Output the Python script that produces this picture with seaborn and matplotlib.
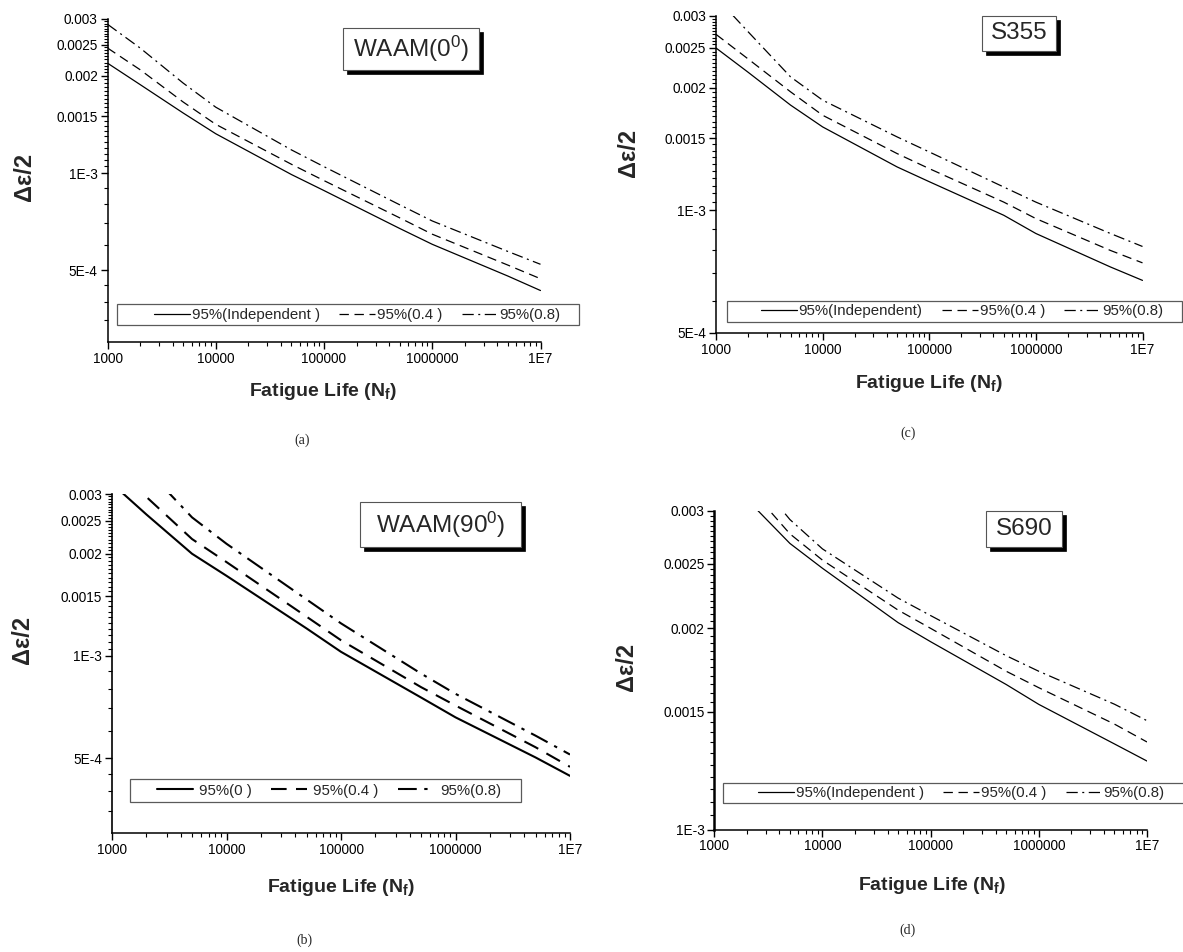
import numpy as np
import pandas as pd
import seaborn as sns
import matplotlib
matplotlib.use("Agg")
import matplotlib.pyplot as plt
from matplotlib.patches import Rectangle
from matplotlib.ticker import FixedLocator, FixedFormatter, NullFormatter, LogLocator

# fatigue life points (cycles)
N = [1e3, 2e3, 5e3, 1e4, 5e4, 1e5, 5e5, 1e6, 5e6, 1e7]

# (a) WAAM 0 deg
waam0_ind = [2.19e-3, 1.88e-3, 1.535e-3, 1.324e-3, 9.9e-4, 8.83e-4, 6.74e-4, 6.02e-4, 4.80e-4, 4.33e-4]
waam0_04 = [2.44e-3, 2.09e-3, 1.66e-3, 1.416e-3, 1.065e-3, 9.48e-4, 7.27e-4, 6.47e-4, 5.19e-4, 4.71e-4]
waam0_08 = [2.89e-3, 2.44e-3, 1.90e-3, 1.60e-3, 1.18e-3, 1.047e-3, 7.98e-4, 7.11e-4, 5.72e-4, 5.22e-4]

# (b) WAAM 90 deg
waam90_0 = [3.22e-3, 2.61e-3, 2.0e-3, 1.722e-3, 1.205e-3, 1.028e-3, 7.54e-4, 6.59e-4, 5.02e-4, 4.43e-4]
waam90_04 = [3.70e-3, 2.94e-3, 2.21e-3, 1.89e-3, 1.305e-3, 1.112e-3, 8.09e-4, 7.14e-4, 5.38e-4, 4.71e-4]
waam90_08 = [4.55e-3, 3.55e-3, 2.56e-3, 2.14e-3, 1.467e-3, 1.247e-3, 8.87e-4, 7.73e-4, 5.82e-4, 5.12e-4]

# (c) S355
s355_ind = [2.50e-3, 2.18e-3, 1.811e-3, 1.601e-3, 1.277e-3, 1.175e-3, 9.72e-4, 8.77e-4, 7.26e-4, 6.73e-4]
s355_04 = [2.70e-3, 2.35e-3, 1.952e-3, 1.71e-3, 1.377e-3, 1.265e-3, 1.047e-3, 9.54e-4, 7.97e-4, 7.43e-4]
s355_08 = [3.33e-3, 2.74e-3, 2.124e-3, 1.862e-3, 1.513e-3, 1.39e-3, 1.14e-3, 1.047e-3, 8.77e-4, 8.15e-4]

# (d) S690
s690_ind = [3.47e-3, 3.12e-3, 2.68e-3, 2.46e-3, 2.04e-3, 1.91e-3, 1.648e-3, 1.539e-3, 1.343e-3, 1.266e-3]
s690_04 = [3.78e-3, 3.28e-3, 2.77e-3, 2.53e-3, 2.13e-3, 2.0e-3, 1.725e-3, 1.63e-3, 1.438e-3, 1.352e-3]
s690_08 = [3.99e-3, 3.48e-3, 2.91e-3, 2.63e-3, 2.22e-3, 2.09e-3, 1.82e-3, 1.725e-3, 1.54e-3, 1.455e-3]

x_ticks = [1e3, 1e4, 1e5, 1e6, 1e7]
x_labels = ["1000", "10000", "100000", "1000000", "1E7"]
y_ticks = [3e-3, 2.5e-3, 2e-3, 1.5e-3, 1e-3, 5e-4]
y_labels = ["0.003", "0.0025", "0.002", "0.0015", "1E-3", "5E-4"]

sns.set_style("ticks")
plt.rcParams["font.family"] = ["Liberation Sans", "DejaVu Sans"]
plt.rcParams["mathtext.fontset"] = "custom"
plt.rcParams["mathtext.rm"] = "Liberation Sans"
plt.rcParams["mathtext.it"] = "Liberation Sans:italic"
plt.rcParams["mathtext.bf"] = "Liberation Sans:bold"

W, H = 1183, 952
fig = plt.figure(figsize=(W / 100, H / 100), dpi=100)
fig.patch.set_facecolor("white")


def fx(x):
    return x / W


def fy(y):
    return 1 - y / H


DASH = (0, (7.5, 4.5))
DASHDOT = (0, (9.0, 3.6, 1.6, 3.6))


def panel(box, ylim, series, labels, lw, title, tbox, leg_box, leg_start,
          ylab_x, xlab, cap, cap_text, textpad=0.1, left_lw=1.1):
    l, t, r, b = box
    ax = fig.add_axes([fx(l), fy(b), (r - l) / W, (b - t) / H])
    styles = ["-", DASH, DASHDOT]
    for vals, lab, st in zip(series, labels, styles):
        df = pd.DataFrame({"N": N, "eps": vals})
        sns.lineplot(data=df, x="N", y="eps", ax=ax, color="black", lw=lw,
                     linestyle=st, label=lab, legend=False)
    ax.set_xscale("log")
    ax.set_yscale("log")
    ax.set_xlim(1e3, 1e7)
    ax.set_ylim(*ylim)
    sns.despine(ax=ax)
    ax.spines["left"].set_linewidth(left_lw)
    ax.spines["bottom"].set_linewidth(1.1)
    for s in ["left", "bottom"]:
        ax.spines[s].set_color("black")

    ax.xaxis.set_major_locator(FixedLocator(x_ticks))
    ax.xaxis.set_major_formatter(FixedFormatter(x_labels))
    ax.xaxis.set_minor_locator(LogLocator(base=10, subs=np.arange(2, 10), numticks=50))
    ax.xaxis.set_minor_formatter(NullFormatter())

    yt = [v for v in y_ticks if ylim[0] - 1e-9 <= v <= ylim[1] + 1e-9]
    yl = [y_labels[y_ticks.index(v)] for v in yt]
    ax.yaxis.set_major_locator(FixedLocator(yt))
    ax.yaxis.set_major_formatter(FixedFormatter(yl))
    minor = list(np.arange(1.05e-3, 3e-3, 5e-5)) + list(np.arange(6e-4, 1e-3, 1e-4)) \
        + list(np.arange(3.5e-4, 5e-4, 5e-5))
    minor = [m for m in minor if ylim[0] < m < ylim[1] and
             min(abs(m - v) for v in y_ticks) > 1e-6]
    ax.yaxis.set_minor_locator(FixedLocator(minor))
    ax.yaxis.set_minor_formatter(NullFormatter())
    ax.tick_params(which="major", direction="out", length=5, width=1.0,
                   labelsize=9.8, pad=2, colors="black")
    ax.tick_params(which="minor", direction="out", length=3, width=0.8, colors="black")
    ax.set_xlabel("")
    ax.set_ylabel("")
    ax.set_facecolor("white")

    # legend, one row, with its own thin frame
    bl, bt, br, bb = leg_box
    fig.add_artist(Rectangle((fx(bl), fy(bb)), (br - bl) / W, (bb - bt) / H,
                             transform=fig.transFigure, facecolor="none",
                             edgecolor="#5a5a5a", lw=0.9, clip_on=False))
    ax.legend(loc="center left", bbox_to_anchor=(fx(leg_start), fy((bt + bb) / 2)),
              bbox_transform=fig.transFigure, frameon=False, ncol=3,
              borderpad=0, borderaxespad=0, handlelength=2.4,
              handletextpad=textpad, columnspacing=1.3, fontsize=10.8)

    # title box with shadow
    tl, tt, tr, tb = tbox
    fig.add_artist(Rectangle((fx(tl + 4), fy(tb + 4)), (tr - tl) / W, (tb - tt) / H,
                             transform=fig.transFigure, facecolor="black",
                             edgecolor="black", lw=0.5))
    fig.add_artist(Rectangle((fx(tl), fy(tb)), (tr - tl) / W, (tb - tt) / H,
                             transform=fig.transFigure, facecolor="white",
                             edgecolor="#555555", lw=0.8))
    fig.text(fx((tl + tr) / 2), fy((tt + tb) / 2), title, ha="center", va="center",
             fontsize=17.5)

    fig.text(fx(ylab_x[0]), fy(ylab_x[1]), "Δε/2", rotation=90, ha="center",
             va="center", fontsize=17, fontweight="bold")
    fig.text(fx(xlab[0]), fy(xlab[1]), r"Fatigue Life (N$_{\mathbf{f}}$)",
             ha="center", va="center", fontsize=14, fontweight="bold")
    fig.text(fx(cap[0]), fy(cap[1]), cap_text, ha="center", va="center",
             fontsize=10, family=["Liberation Serif", "DejaVu Serif"])
    return ax


lab_ind = ["95%(Independent )", "95%(0.4 )", "95%(0.8)"]

panel((107.5, 19, 540.5, 342), (3e-4, 3e-3), [waam0_ind, waam0_04, waam0_08],
      lab_ind, 0.9, "WAAM(0$^0$)", (343, 28, 479, 70),
      (117, 304.5, 579, 325), 154, (24, 177), (323, 392), (302, 440), "(a)")

panel((716, 15.7, 1142.5, 333), (5e-4, 3e-3), [s355_ind, s355_04, s355_08],
      ["95%(Independent)", "95%(0.4 )", "95%(0.8)"], 0.9, "S355", (982, 15.7, 1056, 50.7),
      (727, 301.5, 1182, 321.5), 761, (629, 153), (929, 383), (908, 433), "(c)")

panel((112, 494, 570, 833.3), (3e-4, 3e-3), [waam90_0, waam90_04, waam90_08],
      ["95%(0 )", "95%(0.4 )", "95%(0.8)"], 1.5, "WAAM(90$^0$)", (360, 502, 521, 547),
      (130, 779.3, 521, 801.7), 157, (23, 640), (341, 887), (304, 940), "(b)",
      textpad=0.4, left_lw=1.2)

panel((714.3, 510.7, 1147, 829.5), (1e-3, 3e-3), [s690_ind, s690_04, s690_08],
      lab_ind, 0.9, "S690", (986, 510.7, 1062, 546.7),
      (722.6, 782.7, 1200, 803.3), 758, (626, 667), (932, 885), (908, 930), "(d)",
      left_lw=1.8)

fig.savefig("out.png", dpi=100, facecolor="white")
